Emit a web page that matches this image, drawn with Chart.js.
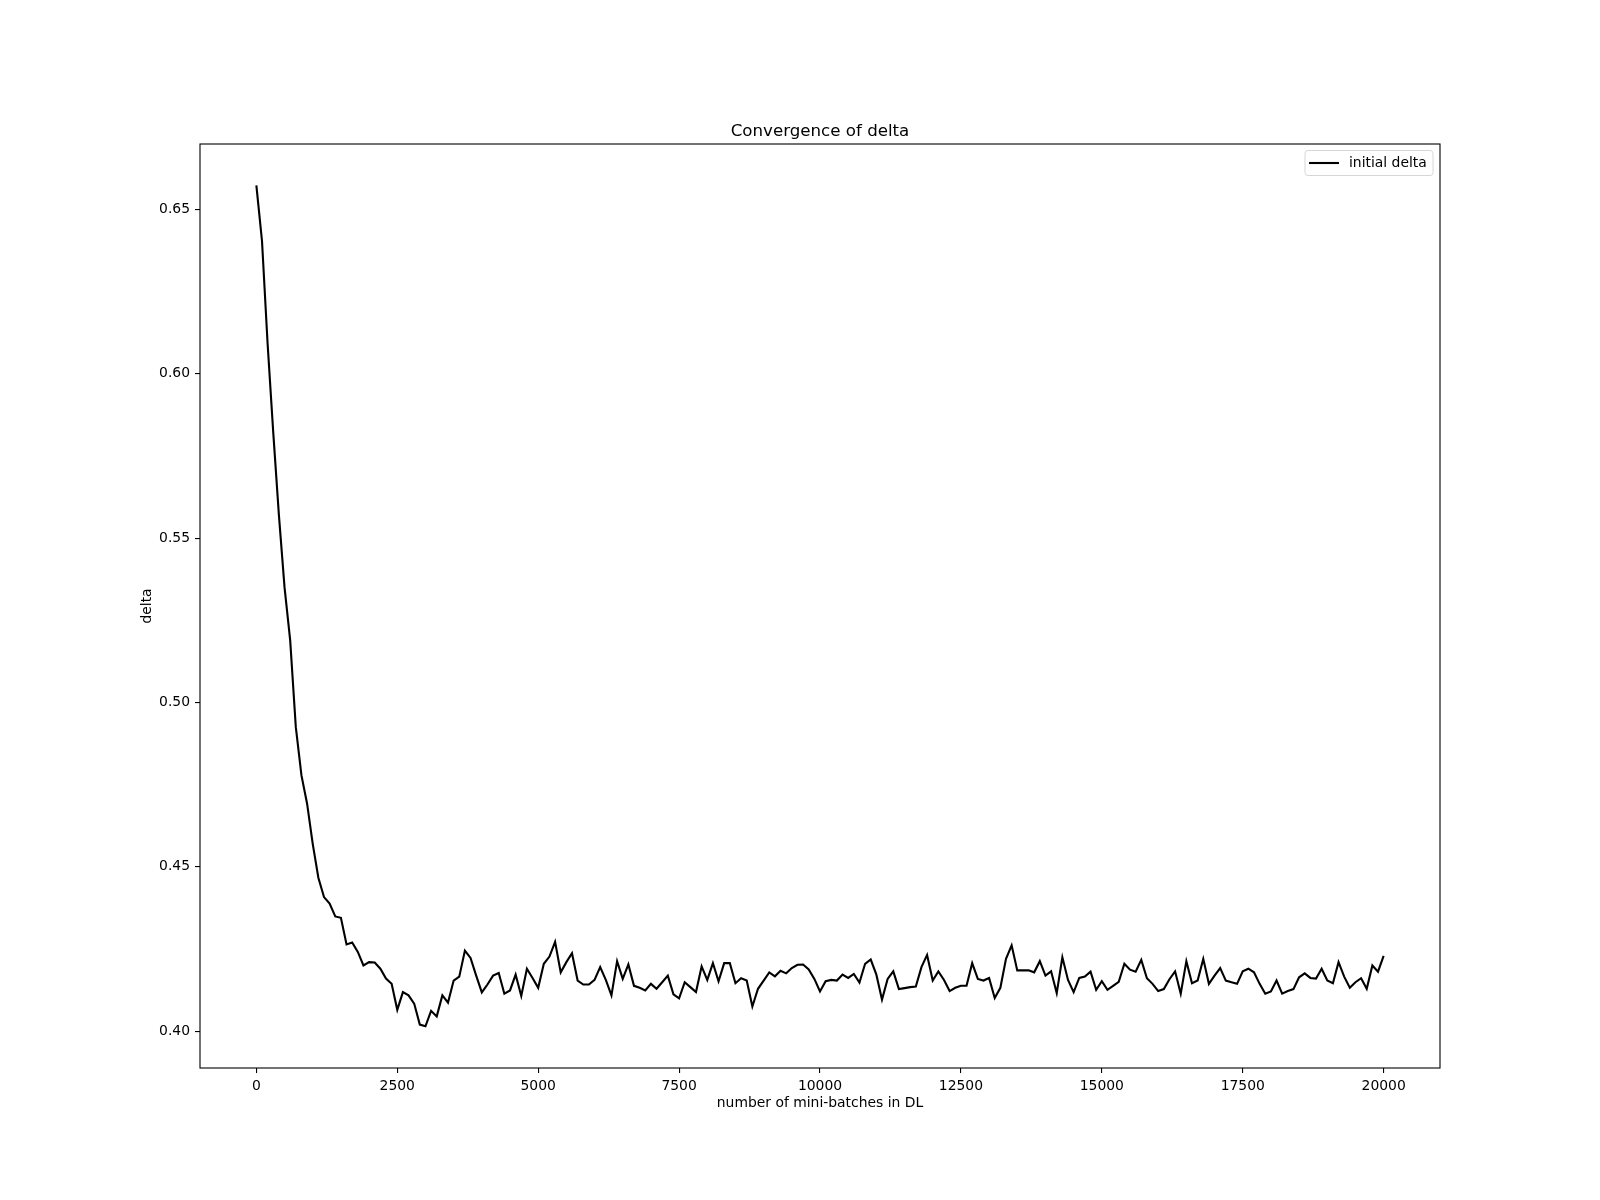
<!DOCTYPE html>
<html lang="en">
<head>
    <meta charset="UTF-8">
    <title>Convergence of delta</title>
    <script src="https://cdn.jsdelivr.net/npm/chart.js"></script>
    <style>
        body { margin: 0; background: #ffffff; }
        #wrap { width: 1600px; height: 1200px; }
    </style>
</head>
<body>
    <div id="wrap"><canvas id="delta-chart" width="1600" height="1200"></canvas></div>
    <script>
        // one point every 100 mini-batches, 0 .. 20000
        const batchStep = 100;
        const delta = [
            0.6573, 0.6404, 0.6090, 0.5820, 0.5570, 0.5350, 0.5189, 0.4925, 0.4778, 0.4692,
            0.4570, 0.4467, 0.4408, 0.4388, 0.4349, 0.4345, 0.4264, 0.4270, 0.4241, 0.4200,
            0.4210, 0.4209, 0.4190, 0.4160, 0.4144, 0.4065, 0.4119, 0.4109, 0.4084, 0.4020,
            0.4015, 0.4062, 0.4045, 0.4109, 0.4087, 0.4154, 0.4166, 0.4245, 0.4223, 0.4169,
            0.4118, 0.4142, 0.4169, 0.4177, 0.4114, 0.4124, 0.4172, 0.4107, 0.4190, 0.4162,
            0.4132, 0.4205, 0.4227, 0.4272, 0.4179, 0.4210, 0.4237, 0.4154, 0.4142, 0.4142,
            0.4156, 0.4195, 0.4156, 0.4109, 0.4213, 0.4159, 0.4203, 0.4138, 0.4132, 0.4124,
            0.4144, 0.4129, 0.4149, 0.4169, 0.4112, 0.4100, 0.4149, 0.4134, 0.4119, 0.4197,
            0.4156, 0.4207, 0.4152, 0.4207, 0.4207, 0.4146, 0.4161, 0.4154, 0.4075, 0.4129,
            0.4154, 0.4179, 0.4167, 0.4184, 0.4176, 0.4192, 0.4202, 0.4203, 0.4188, 0.4159,
            0.4121, 0.4152, 0.4156, 0.4154, 0.4172, 0.4162, 0.4174, 0.4148, 0.4205, 0.4218,
            0.4172, 0.4096, 0.4159, 0.4182, 0.4128, 0.4131, 0.4134, 0.4136, 0.4195, 0.4232,
            0.4154, 0.4182, 0.4156, 0.4122, 0.4132, 0.4138, 0.4138, 0.4207, 0.4159, 0.4154,
            0.4162, 0.4101, 0.4132, 0.4220, 0.4261, 0.4185, 0.4185, 0.4185, 0.4179, 0.4213,
            0.4169, 0.4182, 0.4116, 0.4225, 0.4156, 0.4119, 0.4162, 0.4166, 0.4181, 0.4126,
            0.4152, 0.4126, 0.4138, 0.4150, 0.4205, 0.4187, 0.4181, 0.4217, 0.4161, 0.4144,
            0.4122, 0.4128, 0.4158, 0.4182, 0.4114, 0.4213, 0.4146, 0.4154, 0.4220, 0.4144,
            0.4169, 0.4192, 0.4154, 0.4149, 0.4144, 0.4182, 0.4190, 0.4179, 0.4144, 0.4114,
            0.4121, 0.4154, 0.4114, 0.4122, 0.4128, 0.4164, 0.4176, 0.4162, 0.4160, 0.4190,
            0.4154, 0.4146, 0.4210, 0.4166, 0.4132, 0.4149, 0.4161, 0.4129, 0.4200, 0.4181,
            0.4229
        ];
        const xTicks = [0, 2500, 5000, 7500, 10000, 12500, 15000, 17500, 20000];
        const yTicks = [0.40, 0.45, 0.50, 0.55, 0.60, 0.65];
        const seriesLabel = "initial delta";

        const font = "DejaVu Sans";
        const points = delta.map((v, i) => ({ x: i * batchStep, y: v }));

        // box around the axes + matplotlib-style legend in the upper right
        const frameAndLegend = {
            id: "frameAndLegend",
            afterDatasetsDraw(chart) {
                const { ctx, chartArea: a } = chart;
                ctx.save();
                ctx.strokeStyle = "#000";
                ctx.lineWidth = 1.1;
                ctx.strokeRect(a.left, a.top, a.right - a.left, a.bottom - a.top);

                const bx = a.right - 135, by = a.top + 6.5, bw = 128, bh = 25;
                ctx.beginPath();
                ctx.roundRect(bx, by, bw, bh, 3);
                ctx.fillStyle = "rgba(255,255,255,0.8)";
                ctx.fill();
                ctx.strokeStyle = "#d6d6d6";
                ctx.lineWidth = 1;
                ctx.stroke();

                const ly = by + bh / 2;
                ctx.beginPath();
                ctx.moveTo(bx + 4, ly);
                ctx.lineTo(bx + 34, ly);
                ctx.strokeStyle = "#000";
                ctx.lineWidth = 2.1;
                ctx.stroke();

                ctx.fillStyle = "#000";
                ctx.font = "13.9px '" + font + "'";
                ctx.textBaseline = "middle";
                ctx.textAlign = "left";
                ctx.fillText(seriesLabel, bx + 44, ly);
                ctx.restore();
            }
        };

        new Chart(document.getElementById("delta-chart"), {
            type: "line",
            data: {
                datasets: [{
                    label: seriesLabel,
                    data: points,
                    borderColor: "#000000",
                    borderWidth: 2.1,
                    pointRadius: 0,
                    tension: 0,
                    fill: false
                }]
            },
            options: {
                responsive: false,
                animation: false,
                layout: { padding: { left: 135, right: 160, top: 121.5, bottom: 84.66 } },
                plugins: {
                    legend: { display: false },
                    tooltip: { enabled: false },
                    title: {
                        display: true,
                        text: "Convergence of delta",
                        fullSize: false,
                        color: "#000",
                        font: { family: font, size: 16.67, weight: "normal" },
                        padding: { top: 0, bottom: 2.5 }
                    }
                },
                scales: {
                    x: {
                        type: "linear",
                        min: -1000,
                        max: 21000,
                        afterBuildTicks: s => { s.ticks = xTicks.map(v => ({ value: v })); },
                        afterFit: s => { s.height = 47.34; },
                        ticks: {
                            color: "#000",
                            font: { family: font, size: 13.9 },
                            padding: 5,
                            maxRotation: 0,
                            callback: v => String(v)
                        },
                        grid: { drawOnChartArea: false, tickLength: 5, color: "#000", lineWidth: 1.1 },
                        border: { display: false },
                        title: {
                            display: true,
                            text: "number of mini-batches in DL",
                            color: "#000",
                            font: { family: font, size: 13.9 },
                            padding: { top: 0, bottom: 4 }
                        }
                    },
                    y: {
                        min: 0.3888,
                        max: 0.6699,
                        afterBuildTicks: s => { s.ticks = yTicks.map(v => ({ value: v })); },
                        afterFit: s => { s.width = 65; },
                        ticks: {
                            color: "#000",
                            font: { family: font, size: 13.9 },
                            padding: 5,
                            callback: v => v.toFixed(2)
                        },
                        grid: { drawOnChartArea: false, tickLength: 5, color: "#000", lineWidth: 1.1 },
                        border: { display: false },
                        title: {
                            display: true,
                            text: "delta",
                            color: "#000",
                            font: { family: font, size: 13.9 },
                            padding: { top: 4, bottom: 4 }
                        }
                    }
                }
            },
            plugins: [frameAndLegend]
        });
    </script>
</body>
</html>
